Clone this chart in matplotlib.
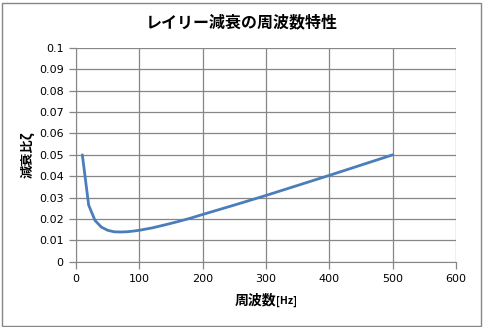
import matplotlib
matplotlib.use('Agg')
import matplotlib.pyplot as plt
from matplotlib.patches import Rectangle

plt.rcParams['font.family'] = ['Noto Sans CJK JP', 'DejaVu Sans']

# frequency [Hz] and damping ratio
freq = [10, 20, 30, 40, 50, 60, 70, 80, 90, 100, 120, 140, 160, 180, 200,
        250, 300, 350, 400, 450, 500]
zeta = [0.050, 0.0265, 0.0193, 0.0162, 0.0147, 0.0140, 0.0139, 0.0140, 0.0143,
        0.0147, 0.0158, 0.0172, 0.0187, 0.0203, 0.0221, 0.0265, 0.0310, 0.0357,
        0.0404, 0.0452, 0.0500]
xticks = [0, 100, 200, 300, 400, 500, 600]
yticks = [0, 0.01, 0.02, 0.03, 0.04, 0.05, 0.06, 0.07, 0.08, 0.09, 0.1]
ylabels = ['0', '0.01', '0.02', '0.03', '0.04', '0.05', '0.06', '0.07', '0.08', '0.09', '0.1']

grey = '#868686'

fig = plt.figure(figsize=(4.83, 3.27), dpi=100)
ax = fig.add_axes([76/483, 1-261.7/327, 380/483, 213.7/327])
ax.plot(freq, zeta, color='#4A7EBB', lw=2.0, solid_capstyle='round', zorder=3)

ax.set_xlim(0, 600)
ax.set_ylim(0, 0.1)
ax.set_xticks(xticks)
ax.set_yticks(yticks)
ax.set_yticklabels(ylabels)
ax.grid(True, color=grey, lw=0.9)
for s in ax.spines.values():
  s.set_visible(False)
ax.spines['left'].set_visible(True)
ax.spines['bottom'].set_visible(True)
ax.spines['left'].set_color(grey)
ax.spines['bottom'].set_color(grey)
ax.tick_params(colors=grey, length=5, width=0.9, labelcolor='black', labelsize=8, pad=4)
for lab in ax.get_xticklabels() + ax.get_yticklabels():
  lab.set_family('DejaVu Sans')

fig.text(0.5, 1-22/327, 'レイリー減衰の周波数特性', ha='center', va='center',
         fontsize=11.5, fontweight='bold')
fig.text(27/483, 1-155/327, '減衰比ζ', rotation=90, ha='center', va='center',
         fontsize=9.5, fontweight='bold')
fig.text(276/483, 1-300/327, '周波数', ha='right', va='center', fontsize=10, fontweight='bold')
fig.text(276/483, 1-301/327, '[Hz]', ha='left', va='center', fontsize=7.5, fontweight='bold')

fig.patches.append(Rectangle((1.5/483, 1.5/327), 479/483, 323/327, transform=fig.transFigure,
                             fill=False, edgecolor=grey, lw=1.0))

fig.savefig('out.png', dpi=100)
